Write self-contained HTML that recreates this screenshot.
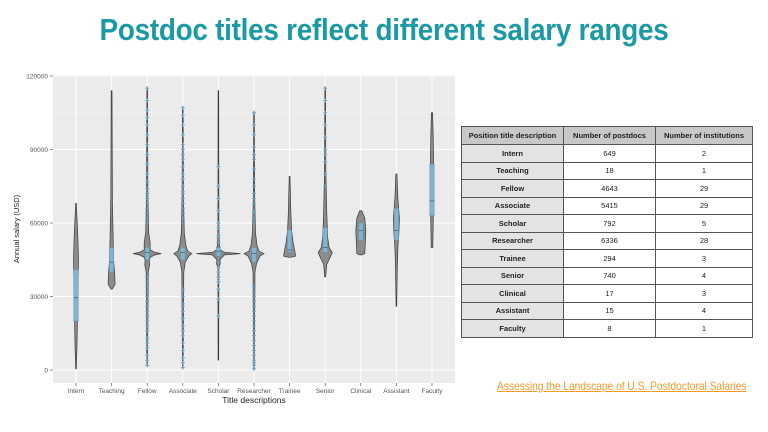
<!DOCTYPE html>
<html><head><meta charset="utf-8">
<style>
body{margin:0;width:768px;height:432px;background:#fff;position:relative;overflow:hidden;font-family:"Liberation Sans",sans-serif}
#title{position:absolute;left:0;width:768px;top:12px;text-align:center;font-family:"Liberation Sans Narrow","Liberation Sans",sans-serif;font-weight:bold;font-size:31px;color:#1b9aa6;letter-spacing:-0.3px;transform:scaleX(0.9)}
table{position:absolute;left:461px;top:126px;width:292px;border-collapse:collapse;font-size:7.5px;color:#222}
td,th{border:1px solid #555;height:16.5px;padding:0;text-align:center}
th{background:#c8c8c8;height:17px;font-weight:bold}
td.n{background:#e3e3e3;font-weight:bold}
#link{position:absolute;left:497px;top:379px;font-size:12px;color:#f39a2a;text-decoration:underline;white-space:nowrap;font-family:"Liberation Sans Narrow","Liberation Sans",sans-serif;transform:scaleX(0.85);transform-origin:0 0}
</style></head><body>
<div id="title">Postdoc titles reflect different salary ranges</div>
<svg id="chart" width="460" height="410" style="position:absolute;left:0;top:0"></svg>
<table>
<tr><th style="width:101px">Position title description</th><th style="width:91px">Number of postdocs</th><th>Number of institutions</th></tr>
<tr><td class="n">Intern</td><td>649</td><td>2</td></tr>
<tr><td class="n">Teaching</td><td>18</td><td>1</td></tr>
<tr><td class="n">Fellow</td><td>4643</td><td>29</td></tr>
<tr><td class="n">Associate</td><td>5415</td><td>29</td></tr>
<tr><td class="n">Scholar</td><td>792</td><td>5</td></tr>
<tr><td class="n">Researcher</td><td>6336</td><td>28</td></tr>
<tr><td class="n">Trainee</td><td>294</td><td>3</td></tr>
<tr><td class="n">Senior</td><td>740</td><td>4</td></tr>
<tr><td class="n">Clinical</td><td>17</td><td>3</td></tr>
<tr><td class="n">Assistant</td><td>15</td><td>4</td></tr>
<tr><td class="n">Faculty</td><td>8</td><td>1</td></tr>
</table>
<a id="link">Assessing the Landscape of U.S. Postdoctoral Salaries</a>
<script>
const categories=["Intern","Teaching","Fellow","Associate","Scholar","Researcher","Trainee","Senior","Clinical","Assistant","Faculty"];
const yTicks=[0,30000,60000,90000,120000];
const q1=[20000,40000,45000,45000,46500,44000,48000,48000,53000,53000,63000];
const q3=[41000,50000,50000,50000,50000,50000,57000,58000,60000,66000,84000];
const med=[29500,44000,48000,48000,48500,47500,49000,50000,57000,57000,69000];
// density profiles: salary levels and half widths (px)
const profY=[
[500,10000,30000,45000,55000,68000],
[33000,35000,40000,45000,55000,70000,114000],
[2000,40000,43000,44500,46000,47000,47500,48000,49000,52000,56000,70000,115000],
[1000,40000,44000,46500,47500,48500,51000,56000,70000,107000],
[4000,42000,43500,45000,47000,47500,48000,49000,51000,58000,114000],
[500,40000,43500,46500,47500,48500,51000,56000,70000,105000],
[46000,46500,49000,52000,57000,65000,79000],
[38000,43000,46000,48000,50000,54000,65000,80000,115000],
[47000,47500,52000,57000,62000,65000],
[26000,40000,50000,56000,62000,70000,80000],
[50000,60000,70000,85000,95000,105000]];
const profW=[
[0.3,1,1.8,2.5,1.8,0.3],
[0.5,3.5,3,2,1.5,0.8,0.4],
[0.4,1,2.5,2,3,8,14,8,3,3,1.5,0.7,0.3],
[0.3,1,2.5,6,9,5,3,1.5,0.7,0.3],
[0.3,0.5,2,1.5,6,22,6,2,1,0.5,0.3],
[0.3,1,2.5,6,10,5,3,1.5,0.7,0.3],
[1,6,5,3.5,2,1.2,0.4],
[0.5,1.5,5,7,4,2.5,1.5,0.7,0.3],
[1,4,4.5,5,4,1],
[0.3,0.8,1.5,2.5,3,1.5,0.5],
[0.8,1.2,1.6,1.6,1.2,0.6]];
const outliers=[
[],[],
[2000,4000,6000,9000,11000,13000,16000,18000,20000,22000,24000,26000,28000,30000,32000,34000,36000,38000,60000,62000,64000,66000,68000,70000,72000,74000,77000,80000,84000,88000,92000,96000,100000,103000,106000,110000,115000],
[1000,3000,5000,8000,11000,14000,16000,18000,21000,24000,26000,27000,30000,32000,33000,60000,62000,64000,66000,68000,70000,72000,73000,75000,78000,80000,83000,86000,88000,90000,92000,96000,100000,104000,107000],
[22000,29000,33000,36000,38000,40000,42000,44000,52000,54000,55000,58000,60000,65000,70000,75000,83000],
[500,2000,3000,4000,6000,8000,10000,12000,14000,16000,18000,20000,22000,24000,26000,28000,30000,32000,34000,60000,62000,64000,65000,68000,70000,72000,75000,78000,82000,86000,88000,91000,96000,100000,105000],
[],
[75000,80000,85000,88000,90000,95000,100000,105000,110000,115000],
[],[],[]];
const svg=document.getElementById('chart');
const NS='http://www.w3.org/2000/svg';
const L=53,R=455,T=75,B=383;
const y=v=>370-(v/120000)*294;
const x=i=>76+i*35.6;
function mk(t,a,p){const e=document.createElementNS(NS,t);for(const k in a)e.setAttribute(k,a[k]);(p||svg).appendChild(e);return e;}
const bg=mk('rect',{x:L,y:T,width:R-L,height:B-T,fill:'#ebebeb'});


for(let v=15000;v<120000;v+=30000)mk('line',{x1:L,x2:R,y1:y(v),y2:y(v),stroke:'#f5f5f5','stroke-width':0.5});
yTicks.forEach(v=>{
mk('line',{x1:L,x2:R,y1:y(v),y2:y(v),stroke:'#fff','stroke-width':1});
mk('line',{x1:L-3,x2:L,y1:y(v),y2:y(v),stroke:'#444','stroke-width':0.6});
const t=mk('text',{x:L-5,y:y(v)+2.5,'text-anchor':'end','font-size':6.5,fill:'#555'});t.textContent=v;


});
categories.forEach((c,i)=>{
const cx=x(i);
mk('line',{x1:cx,x2:cx,y1:T,y2:B,stroke:'#fff','stroke-width':1});
mk('line',{x1:cx,x2:cx,y1:B,y2:B+3,stroke:'#444','stroke-width':0.6});
const t=mk('text',{x:cx,y:B+10,'text-anchor':'middle','font-size':6.5,fill:'#555'});t.textContent=c;


});
categories.forEach((c,i)=>{
const cx=x(i),ys=profY[i],ws=profW[i];
let pts=[];
for(let k=0;k<ys.length;k++)pts.push((cx+ws[k])+','+y(ys[k]));
for(let k=ys.length-1;k>=0;k--)pts.push((cx-ws[k])+','+y(ys[k]));
const p=mk('polygon',{points:pts.join(' '),fill:'#8c8c8c',stroke:'#3a3a3a','stroke-width':0.7});


outliers[i].forEach(v=>{
const yy=y(v);
mk('line',{x1:cx-2,x2:cx+2,y1:yy,y2:yy,stroke:'#6c9fbb','stroke-width':0.9});
mk('line',{x1:cx,x2:cx,y1:yy-2,y2:yy+2,stroke:'#6c9fbb','stroke-width':1.4});
});
const b=mk('rect',{x:cx-2.2,y:y(q3[i]),width:4.4,height:y(q1[i])-y(q3[i]),fill:'#86b4cf',stroke:'#5f8fab','stroke-width':0.5});


mk('line',{x1:cx-2.2,x2:cx+2.2,y1:y(med[i]),y2:y(med[i]),stroke:'#3b6a85','stroke-width':0.8});
});
const yt=mk('text',{transform:'translate(19,229) rotate(-90)','text-anchor':'middle','font-size':7.5,fill:'#222'});yt.textContent='Annual salary (USD)';


const xt=mk('text',{x:254,y:403,'text-anchor':'middle','font-size':8.5,fill:'#222'});xt.textContent='Title descriptions';


</script>
</body></html>
